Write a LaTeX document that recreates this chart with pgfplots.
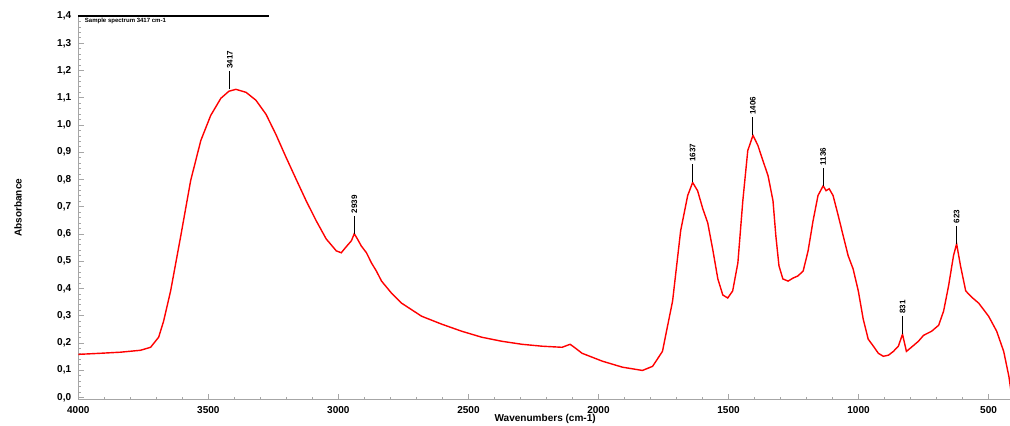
\documentclass[border=0pt]{standalone}
\usepackage{fontspec}
\setmainfont{Liberation Sans}
\usepackage{pgfplots}
\pgfplotsset{compat=1.18}
\begin{document}
\begin{tikzpicture}
\begin{axis}[
  name=ax,
  scale only axis,
  width=465pt, height=191pt,
  x dir=reverse,
  xmin=410, xmax=4000,
  ymin=-0.008, ymax=1.4,
  axis x line*=bottom, axis y line*=left,
  axis line style={gray!70, line width=0.6pt},
  xtick={4000,3500,3000,2500,2000,1500,1000,500},
  minor x tick num=4,
  ytick={0,0.1,...,1.4},
  minor y tick num=4,
  tick style={gray!70, line width=0.4pt},
  major tick length=3pt, minor tick length=1.5pt,
  /pgf/number format/assume math mode=true,
  /pgf/number format/use comma,
  yticklabel style={/pgf/number format/fixed, /pgf/number format/fixed zerofill, /pgf/number format/precision=1},
  xticklabel style={/pgf/number format/set thousands separator={}},
  ticklabel style={font=\fontsize{5}{6}\selectfont\bfseries},
  clip=false,
]
\addplot[red, line width=0.7pt] coordinates {
(4000,0.158)(3915,0.162)(3838,0.166)(3761,0.173)(3722,0.184)(3691,0.221)
(3672,0.280)(3645,0.391)(3606,0.593)(3568,0.796)(3529,0.943)(3491,1.035)
(3452,1.098)(3421,1.124)(3394,1.131)(3355,1.120)(3317,1.091)(3278,1.039)
(3240,0.965)(3201,0.881)(3162,0.800)(3124,0.722)(3085,0.648)(3047,0.582)
(3008,0.538)(2989,0.531)(2970,0.553)(2950,0.575)(2939,0.601)(2927,0.582)
(2912,0.556)(2892,0.531)(2873,0.494)(2854,0.464)(2834,0.427)(2796,0.383)
(2757,0.346)(2680,0.298)(2603,0.269)(2526,0.243)(2449,0.221)(2371,0.206)
(2294,0.195)(2217,0.188)(2140,0.184)(2109,0.195)(2093,0.184)(2063,0.162)
(1985,0.133)(1908,0.111)(1831,0.099)(1792,0.114)(1754,0.169)(1715,0.354)
(1684,0.612)(1657,0.741)(1638,0.789)(1619,0.759)(1599,0.693)(1580,0.641)
(1561,0.545)(1541,0.435)(1522,0.376)(1503,0.365)(1484,0.391)(1464,0.494)
(1445,0.722)(1426,0.906)(1406,0.962)(1387,0.925)(1368,0.870)(1348,0.814)
(1329,0.722)(1318,0.593)(1306,0.483)(1291,0.435)(1271,0.427)(1252,0.438)
(1233,0.446)(1213,0.464)(1194,0.538)(1175,0.648)(1156,0.741)(1136,0.777)
(1125,0.759)(1113,0.766)(1098,0.741)(1078,0.667)(1059,0.593)(1040,0.520)
(1021,0.472)(1001,0.391)(982,0.287)(963,0.214)(943,0.188)(924,0.162)
(905,0.151)(885,0.155)(866,0.169)(847,0.188)(831,0.232)(816,0.169)
(797,0.184)(770,0.206)(750,0.228)(719,0.243)(692,0.265)(673,0.317)
(654,0.409)(635,0.520)(623,0.564)(608,0.483)(588,0.391)(565,0.368)
(538,0.346)(500,0.298)(469,0.243)(442,0.169)(422,0.077)(411,0.004)
};
% top legend line
\addplot[black, line width=0.6pt] coordinates {(4000,1.4)(3267,1.4)};
\node[anchor=north west, font=\fontsize{3}{4}\selectfont\bfseries, inner sep=0.5pt] at (axis cs:3980,1.397) {Sample spectrum 3417 cm-1};
% peak annotations
\foreach \px/\py/\lab in {3417/1.131/3417, 2939/0.601/2939, 1638/0.789/1637, 1406/0.962/1406, 1136/0.777/1136, 831/0.232/831, 623/0.564/623}{
  \edef\tmp{\noexpand\draw[black, line width=0.5pt] (axis cs:\px,\py) -- ++(0pt,9pt) node[rotate=90, anchor=west, font=\noexpand\fontsize{4}{5}\noexpand\selectfont\noexpand\bfseries, inner sep=1pt] {\lab};}
  \tmp
}
\end{axis}
\node[font=\fontsize{5}{6}\selectfont\bfseries] at ([yshift=-9.5pt]ax.south) {Wavenumbers (cm-1)};
\node[font=\fontsize{5}{6}\selectfont\bfseries, rotate=90] at ([xshift=-30pt]ax.west) {Absorbance};
\pgfresetboundingbox
\path[use as bounding box] ([xshift=-39pt,yshift=-13pt]ax.south west) rectangle ([xshift=-1pt,yshift=8pt]ax.north east);
\end{tikzpicture}
\end{document}
